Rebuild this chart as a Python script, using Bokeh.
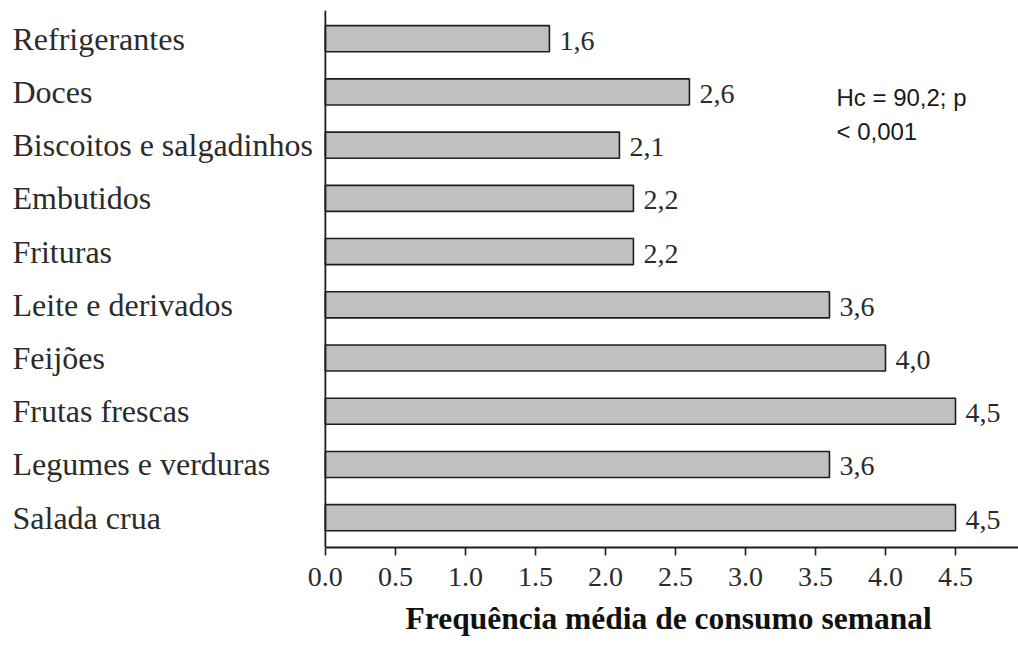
from bokeh.plotting import figure
from bokeh.models import ColumnDataSource, LabelSet, Label, Range1d, FixedTicker, CustomJSTickFormatter, Span, Title
from bokeh.core.properties import value
from bokeh.embed import file_html
from bokeh.resources import INLINE

categories = ["Refrigerantes", "Doces", "Biscoitos e salgadinhos", "Embutidos", "Frituras",
              "Leite e derivados", "Feijões", "Frutas frescas", "Legumes e verduras", "Salada crua"]
values = [1.6, 2.6, 2.1, 2.2, 2.2, 3.6, 4.0, 4.5, 3.6, 4.5]
value_labels = ["1,6", "2,6", "2,1", "2,2", "2,2", "3,6", "4,0", "4,5", "3,6", "4,5"]
x_ticks = [0.0, 0.5, 1.0, 1.5, 2.0, 2.5, 3.0, 3.5, 4.0, 4.5, 5.0]
x_title = "Frequência média de consumo semanal"
stat_line1 = "Hc = 90,2; p"
stat_line2 = "< 0,001"

X_START, X_END = -2.32, 4.95

pos = list(range(len(categories)))
src = ColumnDataSource(dict(y=pos, v=values, cat=categories, lab=value_labels,
                            xs=[X_START] * len(pos)))

SERIF = "Liberation Serif"
TXT = "#2b2b2b"
LINE = "#1e1e1e"

p = figure(width=1018, height=646, output_backend="svg", toolbar_location=None,
           x_range=Range1d(X_START, X_END), y_range=Range1d(9.56, -0.53),
           min_border_left=0, min_border_right=0, min_border_top=10, min_border_bottom=98)
p.outline_line_color = None
p.grid.visible = False
p.background_fill_color = "white"
p.yaxis.visible = False

# category names, left aligned at the left edge
p.text(x="xs", y="y", text="cat", source=src, x_offset=12,
       text_align="left", text_baseline="middle",
       text_font=value(SERIF), text_font_size=value("32px"), text_color=TXT)

p.hbar(y="y", left=0, right="v", height=0.49, source=src,
       fill_color="#c0c0c0", line_color=LINE, line_width=1.6)

# vertical axis line at zero
p.add_layout(Span(location=0, dimension="height", line_color=LINE, line_width=1.8))

p.add_layout(LabelSet(x="v", y="y", text="lab", source=src, x_offset=10, y_offset=-2,
                      text_align="left", text_baseline="middle",
                      text_font=value(SERIF), text_font_size=value("28px"), text_color=TXT))

p.add_layout(Label(x=3.65, y=1.1, text=stat_line1, text_align="left", text_baseline="middle",
                   text_font="Liberation Sans", text_font_size="24px", text_color="#1a1a1a"))
p.add_layout(Label(x=3.65, y=1.74, text=stat_line2, text_align="left", text_baseline="middle",
                   text_font="Liberation Sans", text_font_size="24px", text_color="#1a1a1a"))

xa = p.xaxis[0]
xa.bounds = (0, X_END)
xa.ticker = FixedTicker(ticks=x_ticks)
xa.formatter = CustomJSTickFormatter(code="return tick.toFixed(1);")
xa.axis_line_color = LINE
xa.axis_line_width = 2
xa.major_tick_line_color = LINE
xa.major_tick_line_width = 1.6
xa.major_tick_out = 8
xa.major_tick_in = 0
xa.minor_tick_line_color = None
xa.major_label_text_font = SERIF
xa.major_label_text_font_size = "28px"
xa.major_label_text_color = TXT
xa.major_label_standoff = 12

p.add_layout(Title(text=x_title, align="left", offset=405, standoff=21,
                   text_line_height=0.7,
                   text_font=SERIF, text_font_style="bold", text_font_size="31.5px",
                   text_color="#111111"), "below")

open("out.html", "w").write(file_html(p, INLINE))
